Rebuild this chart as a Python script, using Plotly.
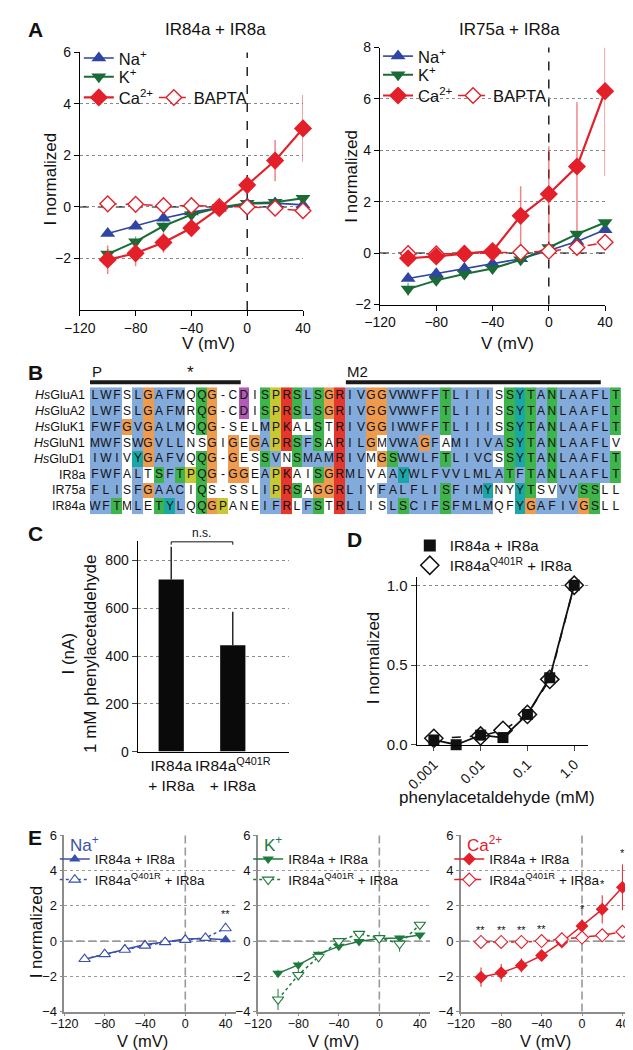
import plotly.graph_objects as go

W, H = 633, 1050
def px(x): return x / W
def py(y): return 1 - y / H

FONT = "Liberation Sans, Arial, sans-serif"
BLACK = "#111111"
BLUE = "#2F45A3"
GREEN = "#1B6B36"
RED = "#E3202A"
EBLUE = "#3A50AC"
EGREEN = "#1F7A3D"

# ---------------- Panel A data ----------------
V = [-100, -80, -60, -40, -20, 0, 20, 40]
a1_na = [-1.03, -0.75, -0.44, -0.2, -0.05, 0.12, 0.15, 0.08]
a1_k = [-1.83, -1.35, -0.74, -0.3, -0.02, 0.14, 0.18, 0.34]
a1_k_err = [0.2, 0.2, 0.15, 0.1, 0.05, 0.05, 0.05, 0.1]
a1_ca = [-2.05, -1.8, -1.38, -0.82, -0.05, 0.85, 1.8, 3.05]
a1_ca_err = [0.55, 0.5, 0.4, 0.15, 0.05, 0.35, 0.8, 1.3]
a1_bapta = [0.12, 0.1, 0.05, 0.05, 0.02, 0.0, -0.05, -0.15]

a2_na = [-0.99, -0.8, -0.6, -0.41, -0.22, 0.1, 0.45, 0.91]
a2_k = [-1.4, -1.06, -0.81, -0.6, -0.26, 0.22, 0.74, 1.19]
a2_k_err = [0.25, 0.15, 0.1, 0.1, 0.1, 0.1, 0.1, 0.1]
a2_ca = [-0.2, -0.13, -0.02, 0.08, 1.45, 2.3, 3.37, 6.3]
a2_ca_err = [0.05, 0.05, 0.05, 0.05, 1.15, 1.85, 2.5, 3.3]
a2_bapta = [-0.02, -0.03, -0.03, 0.02, 0.03, 0.07, 0.22, 0.42]

# ---------------- Panel B data ----------------
seq_names = ["<i>Hs</i>GluA1", "<i>Hs</i>GluA2", "<i>Hs</i>GluK1", "<i>Hs</i>GluN1",
             "<i>Hs</i>GluD1", "IR8a", "IR75a", "IR84a"]
seqs = [
    "LWFSLGAFMQQG-CDISPRSLSGRIVGGVWWFFTLIIISSYTANLAAFLT",
    "LWFSLGAFMRQG-CDISPRSLSGRIVGGVWWFFTLIIISSYTANLAAFLT",
    "FWFGVGALMQQG-SELMPKALSTRIVGGIWWFFTLIIISSYTANLAAFLT",
    "MWFSWGVLLNSGIGEGAPRSFSARILGMVWAGFAMIIVASYTANLAAFLV",
    "IWIVYGAFVQQG-GESSVNSMAMRIVMGSWWLFTLIVCSSYTANLAAFLT",
    "FWFALTSFTPQG-GGEAPKAISGRMLVAAYWLFVVLMLATFTANLAAFLT",
    "FLISFGAACIQS-SSLIPRSAGGRLIYFALFLISFIMYNYYTSVVVSSLL",
    "WFTMLETYLQQGPANEIFRLFSTRLLISLSCIFSFMLMQFYGAFIVGSLL",
]
seq_colors = [
    "bbb.bobbb.go..m.gyrgbgorbboobbbbbgbbbb.gcgbgbbbbbg",
    "bbb.bobbb.go..m.gyrgbgorbboobbbbbgbbbb.gcgbgbbbbbg",
    "bbbobobbb.go....byr..g.rbboobbbbbgbbbb.gcgbgbbbbbg",
    "bbb.bobbb..o.o.obyrgbg.rbbo.bbbob.bbbbbgcgbgbbbbb.",
    "bbb.cobbb.go.o..gb.gbbbrbb.ogbbbbgbbbb.gcgbgbbbbbg",
    "bbb.b.gbgygo.oo.byr..gorbb..bcbbbbbbbbbgbgbgbbbbbg",
    "bbb.bobbb.g.....byrg.oorbb.bbbbbbgbbbc..cg..bbgg..",
    "bbg.b.gcb.goy...bbr.bg.rbb..bgbbbgbbbb..cobbbbog..",
]
color_codes = [".", "b", "o", "g", "r", "m", "y", "c"]
color_hex = ["#FFFFFF", "#82AADB", "#EE9B4E", "#3DB54B", "#E5372B", "#B25BB6", "#C8C832", "#1AA7A8"]
p_region = [-0.5, 13.7]
m2_region = [23.6, 47.6]
star_col = 9

# ---------------- Panel C data ----------------
c_cats = ["IR84a<br>+ IR8a", "IR84a<sup>Q401R</sup><br>+ IR8a"]
c_vals = [720, 445]
c_err = [137, 140]

# ---------------- Panel D data ----------------
d_conc = [0.001, 0.003, 0.01, 0.03, 0.1, 0.3, 1.0]
d_wt = [0.03, 0.0, 0.06, 0.045, 0.19, 0.42, 1.0]
d_conc_mut = [0.001, 0.01, 0.03, 0.1, 0.3, 1.0]
d_mut = [0.04, 0.055, 0.09, 0.19, 0.41, 1.0]

# ---------------- Panel E data ----------------
e_na_mut = [-1.02, -0.74, -0.49, -0.26, -0.06, 0.07, 0.18, 0.73]
e_k_mut = [-3.31, -1.92, -0.89, 0.0, 0.41, 0.17, -0.15, 0.93]
e_k_mut_err = [0.6, 0.3, 0.15, 0.1, 0.1, 0.1, 0.45, 0.15]
e_ca_mut = [-0.05, -0.05, -0.05, 0.0, 0.1, 0.2, 0.33, 0.53]
e_ca_mut_err = [0.05, 0.05, 0.05, 0.05, 0.05, 0.05, 0.1, 0.3]
e_na_sig = {40: "**"}
e_ca_sig = {-100: "**", -80: "**", -60: "**", -40: "**", 0: "*", 20: "*", 40: "*"}

fig = go.Figure()

def dom(a, b, size):
    return [a / size, b / size]

# ---------- Panel A traces ----------
def add_iv(xa, ya, ytop, na, k, k_err, ca, ca_err, bapta, lg):
    ca_up = [min(e, ytop - v) for v, e in zip(ca, ca_err)]
    fig.add_trace(go.Scatter(x=V, y=na, xaxis=xa, yaxis=ya, mode="lines+markers",
                             name="Na<sup>+</sup>", legend=lg[0],
                             line=dict(color=BLUE, width=1.6),
                             marker=dict(symbol="triangle-up", size=13, color=BLUE),
                             cliponaxis=False))
    fig.add_trace(go.Scatter(x=V, y=k, xaxis=xa, yaxis=ya, mode="lines+markers",
                             name="K<sup>+</sup>", legend=lg[1],
                             error_y=dict(type="data", array=k_err, color="rgba(27,107,54,0.6)", thickness=1.3, width=0),
                             line=dict(color=GREEN, width=2),
                             marker=dict(symbol="triangle-down", size=13, color=GREEN),
                             cliponaxis=False))
    fig.add_trace(go.Scatter(x=V, y=bapta, xaxis=xa, yaxis=ya, mode="lines+markers",
                             name="BAPTA", legend=lg[2],
                             line=dict(color=RED, width=1.5, dash="dash"),
                             marker=dict(symbol="diamond", size=12, color="white", line=dict(color=RED, width=1.4)),
                             cliponaxis=False))
    fig.add_trace(go.Scatter(x=V, y=ca, xaxis=xa, yaxis=ya, mode="lines+markers",
                             name="Ca<sup>2+</sup>", legend=lg[2], legendwidth=30,
                             error_y=dict(type="data", array=ca_up, arrayminus=ca_err,
                                          color="rgba(227,32,42,0.55)", thickness=1.5, width=0),
                             line=dict(color=RED, width=2.2),
                             marker=dict(symbol="diamond", size=14, color=RED),
                             cliponaxis=False))

add_iv("x", "y", 6, a1_na, a1_k, a1_k_err, a1_ca, a1_ca_err, a1_bapta, ["legend", "legend2", "legend3"])
add_iv("x2", "y2", 8, a2_na, a2_k, a2_k_err, a2_ca, a2_ca_err, a2_bapta, ["legend4", "legend5", "legend6"])

# ---------- Panel B heatmap ----------
z = [[color_codes.index(c) for c in row.ljust(50, ".")[:50]] for row in seq_colors]
txt = [[ch for ch in s] for s in seqs]
n = len(color_hex)
cs = []
for i, c in enumerate(color_hex):
    cs.append([i / n, c])
    cs.append([(i + 1) / n, c])
fig.add_trace(go.Heatmap(z=z, x=list(range(50)), y=list(range(len(seqs))), xaxis="x3", yaxis="y3",
                         colorscale=cs, zmin=-0.5, zmax=n - 0.5, showscale=False,
                         text=txt, texttemplate="%{text}",
                         textfont=dict(size=12, color=BLACK, family=FONT),
                         hoverinfo="skip", xgap=0, ygap=0))

# ---------- Panel C ----------
c_pos = list(range(len(c_cats)))
fig.add_trace(go.Bar(x=c_pos, y=c_vals, xaxis="x4", yaxis="y4", width=0.41,
                     marker=dict(color="#0A0A0A", line=dict(width=0)),
                     error_y=dict(type="data", array=c_err, arrayminus=[0] * len(c_err), color="#0A0A0A",
                                  thickness=1.3, width=0),
                     showlegend=False))

# ---------- Panel D ----------
fig.add_trace(go.Scatter(x=d_conc_mut, y=d_mut, xaxis="x5", yaxis="y5", mode="lines+markers",
                         line=dict(color=BLACK, width=1.6, dash="dash"),
                         marker=dict(symbol="diamond", size=14, color="white", line=dict(color=BLACK, width=1.5)),
                         showlegend=False, cliponaxis=False))
fig.add_trace(go.Scatter(x=d_conc, y=d_wt, xaxis="x5", yaxis="y5", mode="lines+markers",
                         line=dict(color=BLACK, width=1.8),
                         marker=dict(symbol="square", size=11, color=BLACK),
                         showlegend=False, cliponaxis=False))
fig.add_trace(go.Scatter(x=[None], y=[None], xaxis="x5", yaxis="y5", mode="markers", name="IR84a + IR8a",
                         marker=dict(symbol="square", size=12, color=BLACK), legend="legend7"))
fig.add_trace(go.Scatter(x=[None], y=[None], xaxis="x5", yaxis="y5", mode="markers",
                         name="IR84a<sup>Q401R</sup> + IR8a",
                         marker=dict(symbol="diamond", size=14, color="white", line=dict(color=BLACK, width=1.5)),
                         legend="legend11"))

# ---------- Panel E ----------
def add_e(xa, ya, wt, wt_err, mut, mut_err, col, sym, lg, mut_dash):
    fig.add_trace(go.Scatter(x=V, y=wt, xaxis=xa, yaxis=ya, mode="lines+markers", name="IR84a + IR8a",
                             legend=lg,
                             error_y=dict(type="data", array=wt_err, color=col, thickness=1, width=0,
                                          visible=wt_err is not None),
                             line=dict(color=col, width=1.5),
                             marker=dict(symbol=sym, size=10, color=col), cliponaxis=False))
    fig.add_trace(go.Scatter(x=V, y=mut, xaxis=xa, yaxis=ya, mode="lines+markers",
                             name="IR84a<sup>Q401R</sup> + IR8a", legend=lg,
                             error_y=dict(type="data", array=mut_err, color=col, thickness=1, width=0,
                                          visible=mut_err is not None),
                             line=dict(color=col, width=1.5, dash=mut_dash),
                             marker=dict(symbol=sym, size=10, color="white", line=dict(color=col, width=1.1)),
                             cliponaxis=False))

add_e("x6", "y6", a1_na, None, e_na_mut, None, EBLUE, "triangle-up", "legend8", "dot")
add_e("x7", "y7", a1_k, a1_k_err, e_k_mut, e_k_mut_err, EGREEN, "triangle-down", "legend9", "dot")
add_e("x8", "y8", a1_ca, a1_ca_err, e_ca_mut, e_ca_mut_err, RED, "diamond", "legend10", "dashdot")

# ---------------- Layout ----------------
axA = dict(showline=True, linecolor="black", linewidth=1, ticks="outside", ticklen=5, tickcolor="black",
           tickfont=dict(size=14, color=BLACK), zeroline=False, showgrid=False, fixedrange=True)
def A_y(rng, tv):
    d = dict(axA)
    d.update(range=rng, tickvals=tv, showgrid=True, gridcolor="#8a8a8a", griddash="dot", gridwidth=1)
    return d

axE = dict(showline=True, linecolor="#8c8c8c", linewidth=1.5, ticks="outside", ticklen=3, tickcolor="#8c8c8c",
           tickfont=dict(size=13, color=BLACK), zeroline=False, showgrid=False)
def E_y():
    d = dict(axE)
    d.update(range=[-4, 6], tickvals=[-4, -2, 0, 2, 4, 6], showgrid=True, gridcolor="#9a9a9a", griddash="dot",
             gridwidth=1)
    return d
def E_x():
    d = dict(axE)
    d.update(range=[-120, 50], tickvals=[-120, -80, -40, 0, 40], ticklabelstandoff=-3,
             tickfont=dict(size=12.5, color=BLACK))
    return d

layout = dict(
    width=W, height=H, margin=dict(l=0, r=0, t=0, b=0),
    paper_bgcolor="white", plot_bgcolor="white",
    font=dict(family=FONT, color=BLACK),
    showlegend=True,
    xaxis=dict(axA, domain=dom(58, 290, W), range=[-120, 40], tickvals=[-120, -80, -40, 0, 40], anchor="y"),
    yaxis=dict(A_y([-4, 6], [-2, 0, 2, 4, 6]), domain=[py(298.5), py(37)], anchor="x"),
    xaxis2=dict(axA, domain=dom(370, 604, W), range=[-120, 40], tickvals=[-120, -80, -40, 0, 40], anchor="y2"),
    yaxis2=dict(A_y([-2, 8], [-2, 0, 2, 4, 6, 8]), domain=[py(293), py(32)], anchor="x2"),
    xaxis3=dict(domain=dom(68.5, 620.5, W), range=[-0.5, 49.5], visible=False, anchor="y3"),
    yaxis3=dict(domain=[py(506), py(377)], range=[7.5, -0.5], visible=False, anchor="x3"),
    xaxis4=dict(domain=dom(118, 275, W), range=[-0.547, 1.906], tickvals=c_pos, ticktext=c_cats, tickangle=0,
                showline=True, linecolor="black", linewidth=1, ticks="", showgrid=False, zeroline=False,
                tickfont=dict(size=15.5, color=BLACK), anchor="y4"),
    yaxis4=dict(domain=[py(747), py(533)], range=[0, 882], tickvals=[0, 200, 400, 600, 800], showline=True,
                linecolor="black", linewidth=1, ticks="outside", ticklen=5, tickfont=dict(size=14, color=BLACK),
                showgrid=True, gridcolor="#8a8a8a", griddash="dot", zeroline=False, anchor="x4"),
    xaxis5=dict(domain=dom(408, 586, W), type="log", range=[-3.37, 0.29], tickvals=[0.001, 0.01, 0.1, 1],
                ticktext=["0.001", "0.01", "0.1", "1.0"], tickangle=-45, showline=True, linecolor="black",
                linewidth=1, ticks="outside", ticklen=5, tickfont=dict(size=14, color=BLACK), showgrid=False,
                zeroline=False, anchor="y5"),
    yaxis5=dict(domain=[py(740), py(570)], range=[0, 1.05], tickvals=[0, 0.5, 1.0], ticktext=["0.0", "0.5", "1.0"],
                showline=True, linecolor="black", linewidth=1, ticks="outside", ticklen=5,
                tickfont=dict(size=15, color=BLACK), showgrid=True, gridcolor="#8a8a8a", griddash="dot",
                zeroline=False, anchor="x5"),
    xaxis6=dict(E_x(), domain=dom(42, 220, W), anchor="y6"),
    yaxis6=dict(E_y(), domain=[py(1011), py(832)], anchor="x6"),
    xaxis7=dict(E_x(), domain=dom(243, 422, W), anchor="y7"),
    yaxis7=dict(E_y(), domain=[py(1011), py(832)], anchor="x7"),
    xaxis8=dict(E_x(), domain=dom(454, 632.5, W), anchor="y8"),
    yaxis8=dict(E_y(), domain=[py(1011), py(832)], anchor="x8"),
)

def leg(x, y, size=17, orientation="v", yanchor="middle"):
    return dict(x=px(x), y=py(y), xanchor="left", yanchor=yanchor, orientation=orientation,
                bgcolor="rgba(0,0,0,0)", borderwidth=0, font=dict(size=size, color=BLACK, family=FONT),
                tracegroupgap=0, itemclick=False, itemdoubleclick=False)

layout["legend"] = leg(57, 43, size=16.5)
layout["legend2"] = leg(57, 62, size=16.5)
layout["legend3"] = dict(leg(57, 83, size=16.5, orientation="h"), traceorder="reversed")
layout["legend4"] = leg(368, 41, size=16.5)
layout["legend5"] = leg(368, 60, size=16.5)
layout["legend6"] = dict(leg(368, 81, size=16.5, orientation="h"), traceorder="reversed")
layout["legend7"] = leg(401, 538, size=15)
layout["legend11"] = leg(401, 558, size=15)
layout["legend8"] = leg(32, 867, size=13.5)
layout["legend9"] = leg(233, 867, size=13.5)
layout["legend10"] = leg(442, 867, size=13.5)

fig.update_layout(**layout)

shapes = []
for xa, ya, col, w, dash in [("x", "y", "black", 1.3, "dash"), ("x2", "y2", "black", 1.3, "dash"),
                             ("x6", "y6", "#999999", 1.6, "8px,4px"), ("x7", "y7", "#999999", 1.6, "8px,4px"),
                             ("x8", "y8", "#999999", 1.6, "8px,4px")]:
    shapes.append(dict(type="line", xref=f"{xa} domain", yref=ya, x0=0, x1=1, y0=0, y1=0,
                       line=dict(color=col, width=w, dash=dash), layer="below"))
    shapes.append(dict(type="line", xref=xa, yref=f"{ya} domain", x0=0, x1=0, y0=0, y1=1,
                       line=dict(color=col, width=w, dash=dash), layer="below"))
# alignment region bars
for reg in (p_region, m2_region):
    shapes.append(dict(type="line", xref="x3", yref="paper", x0=reg[0], x1=reg[1], y0=py(372), y1=py(372),
                       line=dict(color="#1a1a1a", width=4)))
# n.s. bracket
top_c = max(v + e for v, e in zip(c_vals, c_err))
shapes.append(dict(type="path", xref="x4", yref="y4",
                   path=f"M {c_pos[0]},{top_c + 9} L {c_pos[0]},{top_c + 21} L {c_pos[1]},{top_c + 21} L {c_pos[1]},{top_c + 9}",
                   line=dict(color=BLACK, width=1)))
fig.update_layout(shapes=shapes)

ann = []
def A(x, y, text, size=16, xanchor="center", yanchor="middle", angle=0, bold=False, color=BLACK, xref="paper", yref="paper"):
    t = f"<b>{text}</b>" if bold else text
    ann.append(dict(x=x, y=y, xref=xref, yref=yref, text=t, showarrow=False, xanchor=xanchor, yanchor=yanchor,
                    textangle=angle, font=dict(size=size, color=color, family=FONT)))

# panel letters
A(px(2), py(14), "A", 21, xanchor="left", bold=True)
A(px(2), py(362), "B", 21, xanchor="left", bold=True)
A(px(2), py(525), "C", 21, xanchor="left", bold=True)
A(px(334), py(532), "D", 21, xanchor="left", bold=True)
A(px(2), py(834), "E", 21, xanchor="left", bold=True)
# A titles
A(px(199), py(14), "IR84a + IR8a", 17)
A(px(505), py(14), "IR75a + IR8a", 17)
A(px(28), py(165), "I normalized", 17, angle=-90)
A(px(340), py(163), "I normalized", 17, angle=-90)
A(px(192), py(333), "V (mV)", 17)
A(px(503), py(333), "V (mV)", 17)
# B labels
for i, nm in enumerate(seq_names):
    ann.append(dict(x=px(66), y=i, xref="paper", yref="y3", text=nm, showarrow=False, xanchor="right",
                    yanchor="middle", font=dict(size=12.5, color=BLACK, family=FONT)))
A(p_region[0] + 0.7, py(361), "P", 15, xanchor="center", xref="x3")
A(star_col, py(362), "*", 17, xref="x3")
A(m2_region[0] + 1.1, py(361), "M2", 15, xref="x3")
# C
A(px(57), py(648), "I (nA)<br>1 mM phenylacetaldehyde", 17, angle=-90)
ann.append(dict(x=(c_pos[0] + c_pos[1]) / 2, y=top_c + 21, xref="x4", yref="y4", text="n.s.", showarrow=False,
                yanchor="bottom", font=dict(size=12, color=BLACK, family=FONT)))
# D
A(px(363), py(652), "I normalized", 17, angle=-90)
A(px(492), py(794), "phenylacetaldehyde (mM)", 17)
# E
A(px(13), py(930), "I normalized", 17, angle=-90)
A(px(123), py(1041), "V (mV)", 16.5)
A(px(322), py(1041), "V (mV)", 16.5)
A(px(542), py(1041), "V (mV)", 16.5)
A(px(46), py(841), "Na<sup>+</sup>", 17, xanchor="left", color=EBLUE)
A(px(247), py(841), "K<sup>+</sup>", 17, xanchor="left", color=EGREEN)
A(px(458), py(841), "Ca<sup>2+</sup>", 17, xanchor="left", color=RED)
for xv, s in e_na_sig.items():
    i = V.index(xv)
    yv = max(a1_na[i], e_na_mut[i])
    ann.append(dict(x=xv, y=yv, xref="x6", yref="y6", text=s, showarrow=False, yanchor="bottom", yshift=6,
                    font=dict(size=11, color=BLACK, family=FONT)))
for xv, s in e_ca_sig.items():
    i = V.index(xv)
    yv = max(a1_ca[i] + a1_ca_err[i], e_ca_mut[i] + e_ca_mut_err[i])
    ann.append(dict(x=xv, y=yv, xref="x8", yref="y8", text=s, showarrow=False, yanchor="bottom", yshift=3,
                    font=dict(size=11, color=BLACK, family=FONT)))

fig.update_layout(annotations=ann)
fig.write_html("out.html")
